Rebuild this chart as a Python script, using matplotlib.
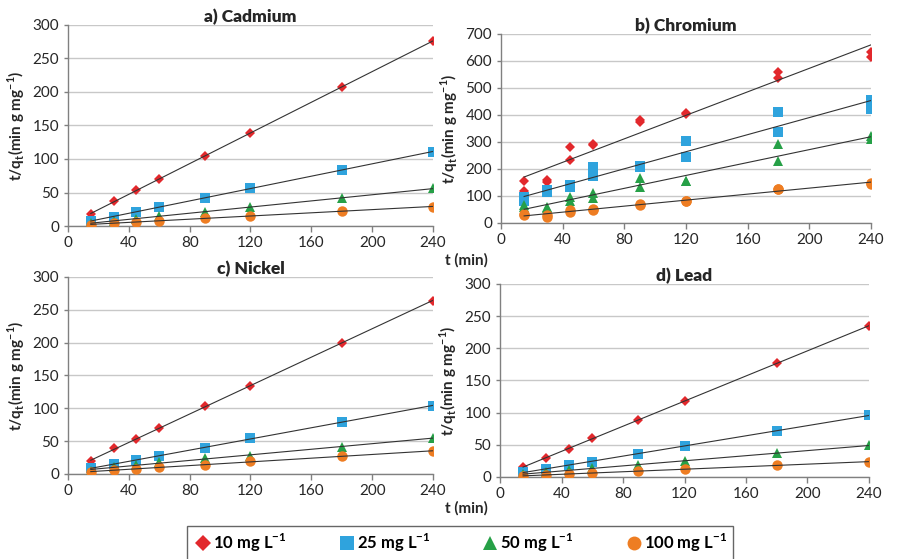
import numpy as np
import matplotlib
matplotlib.use("Agg")
import matplotlib.pyplot as plt
from matplotlib.lines import Line2D

plt.rcParams['font.family'] = ['Lato', 'DejaVu Sans']

# ---------------- data ----------------
time_min = [15, 30, 45, 60, 90, 120, 180, 240]
series_labels = ["10 mg L$^{\\mathregular{-1}}$", "25 mg L$^{\\mathregular{-1}}$",
                 "50 mg L$^{\\mathregular{-1}}$", "100 mg L$^{\\mathregular{-1}}$"]

# a) Cadmium
cd_10 = [18, 37, 53, 70, 104, 139, 208, 276]
cd_25 = [8, 14, 21, 28, 42, 56, 84, 111]
cd_50 = [4, 8, 11, 15, 21, 28, 42, 56]
cd_100 = [2, 4, 6, 8, 12, 15, 22, 29]

# b) Chromium (two replicates)
cr_10_r1 = [157, 160, 281, 294, 383, 406, 559, 633]
cr_10_r2 = [120, 150, 235, 290, 373, 404, 536, 615]
cr_25_r1 = [95, 122, 140, 206, 212, 302, 410, 455]
cr_25_r2 = [80, 115, 135, 173, 208, 244, 337, 421]
cr_50_r1 = [68, 60, 95, 110, 167, 157, 294, 323]
cr_50_r2 = [60, 55, 80, 92, 132, 155, 228, 312]
cr_100_r1 = [35, 30, 48, 52, 72, 80, 127, 148]
cr_100_r2 = [30, 22, 40, 48, 68, 82, 127, 145]

# c) Nickel
ni_10 = [19, 39, 53, 70, 103, 134, 200, 264]
ni_25 = [9, 15, 21, 27, 40, 55, 79, 104]
ni_50 = [5, 10, 14, 18, 24, 28, 41, 55]
ni_100 = [3, 6, 8, 10, 14, 19, 27, 35]

# d) Lead
pb_10 = [16, 30, 44, 60, 88, 118, 177, 235]
pb_25 = [8, 13, 18, 24, 36, 48, 72, 96]
pb_50 = [4, 7, 11, 14, 19, 25, 37, 49]
pb_100 = [2, 3, 5, 6, 9, 12, 18, 24]

# ---------------- styling ----------------
colors = ['#E2282C', '#2FA3DD', '#26A047', '#EE7D22']
markers = ['D', 's', '^', 'o']
msizes = [5.5, 7.0, 7.0, 7.5]

fig = plt.figure(figsize=(8.98, 5.59), dpi=100)

panels = [
    ("a) Cadmium", [0.0757, 0.5957, 0.4065, 0.3596], 300,
     [[cd_10], [cd_25], [cd_50], [cd_100]]),
    ("b) Chromium", [0.5579, 0.6011, 0.4120, 0.3381], 700,
     [[cr_10_r1, cr_10_r2], [cr_25_r1, cr_25_r2], [cr_50_r1, cr_50_r2], [cr_100_r1, cr_100_r2]]),
    ("c) Nickel", [0.0757, 0.1521, 0.4065, 0.3524], 300,
     [[ni_10], [ni_25], [ni_50], [ni_100]]),
    ("d) Lead", [0.5568, 0.1467, 0.4109, 0.3453], 300,
     [[pb_10], [pb_25], [pb_50], [pb_100]]),
]

x = np.array(time_min, dtype=float)
for title, rect, ymax, groups in panels:
    ax = fig.add_axes(rect)
    for i, reps in enumerate(groups):
        xs_all = np.concatenate([x for _ in reps])
        ys_all = np.concatenate([np.array(r, dtype=float) for r in reps])
        for r in reps:
            ax.plot(x, r, linestyle='none', marker=markers[i], ms=msizes[i],
                    color=colors[i], markeredgewidth=0, zorder=3)
        k, b = np.polyfit(xs_all, ys_all, 1)
        xl = np.array([x.min(), x.max()])
        ax.plot(xl, k * xl + b, color='#333333', lw=0.8, zorder=4)
    ax.set_xlim(0, 240)
    ax.set_ylim(0, ymax)
    ax.set_xticks(np.arange(0, 241, 40))
    step = 50 if ymax == 300 else 100
    ax.set_yticks(np.arange(0, ymax + 1, step))
    ax.yaxis.grid(True, color='#C8C8C8', lw=1.0)
    ax.set_axisbelow(True)
    for s in ['top', 'right']:
        ax.spines[s].set_visible(False)
    for s in ['left', 'bottom']:
        ax.spines[s].set_color('#808080')
        ax.spines[s].set_linewidth(1.0)
    ax.tick_params(axis='both', labelsize=11, colors='#808080', labelcolor='#262626',
                   length=4, width=1.0)
    ax.tick_params(axis='y', length=3)
    ax.set_ylabel("t/q$_{\\mathregular{t}}$(min g mg$^{\\mathregular{-1}}$)",
                  fontsize=11, fontweight='bold', color='#262626', labelpad=4)
    ax.set_title(title, fontsize=12.5, fontweight='heavy', color='#262626', pad=2)

# x-axis labels
fig.text(0.519, 1 - 260 / 559, "t (min)", fontsize=11, fontweight='bold',
         color='#262626', ha='center', va='center')
fig.text(0.519, 1 - 508 / 559, "t (min)", fontsize=11, fontweight='bold',
         color='#262626', ha='center', va='center')

# legend
handles = [Line2D([0], [0], linestyle='none', marker=markers[i], ms=msizes[i] + 2.5,
                  color=colors[i], markeredgewidth=0) for i in range(4)]
leg = fig.legend(handles, series_labels, loc='center', ncol=4,
                 bbox_to_anchor=(0.5126, 1 - 543 / 559), frameon=True, fancybox=False,
                 edgecolor='#404040', handletextpad=0.0, columnspacing=3.0,
                 borderpad=0.35, handlelength=1.2,
                 prop={'size': 12, 'weight': 'bold'})
leg.get_frame().set_linewidth(1.0)

fig.savefig("out.png", dpi=100)
